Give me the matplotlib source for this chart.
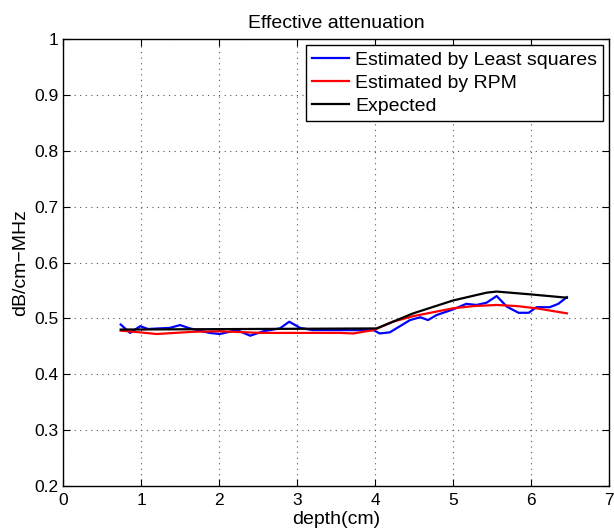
import numpy as np
import matplotlib
matplotlib.use('Agg')
import matplotlib.pyplot as plt

# values
ls_depth = [0.74, 0.86, 0.99, 1.09, 1.37, 1.5, 1.63, 1.88, 2.01, 2.23, 2.4, 2.57, 2.78, 2.9, 3.04,
            3.2, 3.44, 3.98, 4.06, 4.19, 4.45, 4.58, 4.68, 4.79, 5.0, 5.17, 5.3, 5.43, 5.56,
            5.69, 5.84, 5.97, 6.07, 6.24, 6.35, 6.46]
ls_att = [0.489, 0.474, 0.486, 0.481, 0.483, 0.488, 0.482, 0.474, 0.472, 0.479, 0.469, 0.477, 0.482,
          0.494, 0.483, 0.479, 0.479, 0.479, 0.473, 0.475, 0.497, 0.502, 0.497, 0.506, 0.516,
          0.526, 0.524, 0.528, 0.540, 0.521, 0.510, 0.510, 0.520, 0.520, 0.526, 0.538]

rpm_depth = [0.74, 0.99, 1.2, 1.67, 2.01, 2.53, 3.0, 3.55, 3.72, 3.98, 4.23, 4.49, 4.71, 5.0,
             5.26, 5.56, 5.82, 6.07, 6.46]
rpm_att = [0.478, 0.475, 0.472, 0.476, 0.477, 0.474, 0.474, 0.474, 0.473, 0.479, 0.494, 0.504,
           0.510, 0.518, 0.522, 0.524, 0.522, 0.518, 0.509]

exp_depth = [0.74, 4.02, 4.49, 5.0, 5.43, 5.56, 5.99, 6.46]
exp_att = [0.48, 0.482, 0.509, 0.532, 0.546, 0.548, 0.543, 0.537]

plt.rcParams['font.family'] = ['Liberation Sans', 'DejaVu Sans']
plt.rcParams['font.size'] = 12

fig = plt.figure(figsize=(6.14, 5.32), dpi=100)
ax = fig.add_axes([63/614, 46/532, 546/614, 447/532])

ax.plot(ls_depth, ls_att, color='#0000ff', lw=1.6, label='Estimated by Least squares')
ax.plot(rpm_depth, rpm_att, color='#ff0000', lw=1.6, label='Estimated by RPM')
ax.plot(exp_depth, exp_att, color='black', lw=1.6, label='Expected')

ax.set_xlim(0, 7)
ax.set_ylim(0.2, 1)
ax.set_xticks(range(8))
ax.set_yticks(np.arange(0.2, 1.01, 0.1))
ax.set_yticklabels(['0.2', '0.3', '0.4', '0.5', '0.6', '0.7', '0.8', '0.9', '1'])
ax.tick_params(direction='in', top=True, right=True, length=5, labelsize=12.5)
ax.tick_params(axis='y', pad=3)
ax.tick_params(axis='x', pad=5)
ax.grid(True, linestyle=(0, (1, 4)), color='#555555', lw=0.8)
for s in ax.spines.values():
    s.set_linewidth(1.0)

ax.set_xlabel('depth(cm)', fontsize=14, labelpad=2)
ax.set_ylabel('dB/cm\u2212MHz', fontsize=14, labelpad=4)
ax.set_title('Effective attenuation', fontsize=14, pad=8)

leg = ax.legend(loc='upper right', fancybox=False, edgecolor='black', framealpha=1,
                handlelength=1.9, handletextpad=0.3, borderaxespad=0.3, labelspacing=0.28,
                borderpad=0.32, fontsize=14)
leg.get_frame().set_linewidth(1.0)

fig.savefig('out.png', dpi=100)
